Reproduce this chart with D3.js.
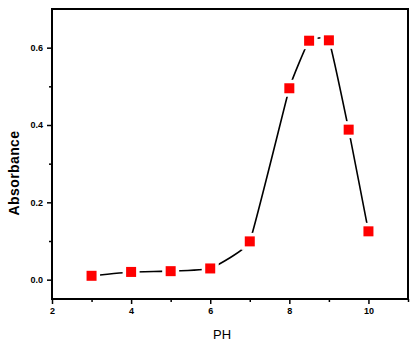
<!DOCTYPE html>
<html>
<head>
<meta charset="utf-8">
<script src="https://cdn.jsdelivr.net/npm/d3@7"></script>
<style>
  body { margin: 0; background: #fff; }
  svg { display: block; font-family: "Liberation Sans", Arial, sans-serif; }
</style>
</head>
<body>
<svg id="chart" width="415" height="347"></svg>
<script>
// pH values and measured absorbance
var phValues = [3, 4, 5, 6, 7, 8, 8.5, 9, 9.5, 10];
var absorbance = [0.010, 0.020, 0.022, 0.029, 0.099, 0.495, 0.618, 0.619, 0.388, 0.125];
var xTicks = [2, 4, 6, 8, 10];
var yTicks = [0.0, 0.2, 0.4, 0.6];

var margin = {left: 52, top: 9, right: 7, bottom: 48};
var width = 415 - margin.left - margin.right,
    height = 347 - margin.top - margin.bottom;

var svg = d3.select("#chart");
var g = svg.append("g").attr("transform", "translate(" + margin.left + "," + margin.top + ")");

var x = d3.scaleLinear().domain([2, 11]).range([0, width]);
var y = d3.scaleLinear().domain([-0.05, 0.70]).range([height, 0]);

var points = phValues.map(function(p, i) { return {ph: p, a: absorbance[i]}; });

// lightly smoothed line
var line = d3.line()
    .x(function(d) { return x(d.ph); })
    .y(function(d) { return y(d.a); })
    .curve(d3.curveCardinal.tension(0.7));

g.append("path")
    .datum(points)
    .attr("d", line)
    .attr("fill", "none")
    .attr("stroke", "#000")
    .attr("stroke-width", 1.6);

// white gap around each marker, then the marker
g.selectAll("rect.gap")
    .data(points)
  .enter().append("rect")
    .attr("class", "gap")
    .attr("x", function(d) { return x(d.ph) - 8.5; })
    .attr("y", function(d) { return y(d.a) - 8.5; })
    .attr("width", 17)
    .attr("height", 17)
    .attr("fill", "#fff");

g.selectAll("rect.marker")
    .data(points)
  .enter().append("rect")
    .attr("class", "marker")
    .attr("x", function(d) { return x(d.ph) - 5; })
    .attr("y", function(d) { return y(d.a) - 5; })
    .attr("width", 10)
    .attr("height", 10)
    .attr("fill", "#ff0000");

// axes
var xAxis = d3.axisBottom(x).tickValues(xTicks).tickFormat(d3.format("d")).tickSize(5).tickPadding(4);
var yAxis = d3.axisLeft(y).tickValues(yTicks).tickFormat(d3.format(".1f")).tickSize(5).tickPadding(4);

g.append("g").attr("transform", "translate(0," + height + ")").call(xAxis);
g.append("g").call(yAxis);

// minor ticks
g.append("g").attr("transform", "translate(0," + height + ")")
    .call(d3.axisBottom(x).tickValues([3, 5, 7, 9, 11]).tickSize(3).tickFormat(""));
g.append("g")
    .call(d3.axisLeft(y).tickValues([0.1, 0.3, 0.5]).tickSize(3).tickFormat(""));

g.selectAll(".domain").remove();
g.selectAll(".tick line").attr("stroke", "#000").attr("stroke-width", 1.5);
g.selectAll(".tick text")
    .attr("fill", "#000")
    .style("font-size", "9px")
    .style("font-weight", "bold");

// frame
g.append("rect")
    .attr("x", 0).attr("y", 0)
    .attr("width", width).attr("height", height)
    .attr("fill", "none")
    .attr("stroke", "#000")
    .attr("stroke-width", 2);

// axis titles
svg.append("text")
    .attr("transform", "translate(19," + (margin.top + height / 2 + 19) + ") rotate(-90)")
    .attr("text-anchor", "middle")
    .style("font-size", "14px")
    .style("font-weight", "bold")
    .style("letter-spacing", "0.4px")
    .text("Absorbance");

svg.append("text")
    .attr("x", margin.left + x(6.3))
    .attr("y", 339)
    .attr("text-anchor", "middle")
    .style("font-size", "13px")
    .text("PH");
</script>
</body>
</html>
